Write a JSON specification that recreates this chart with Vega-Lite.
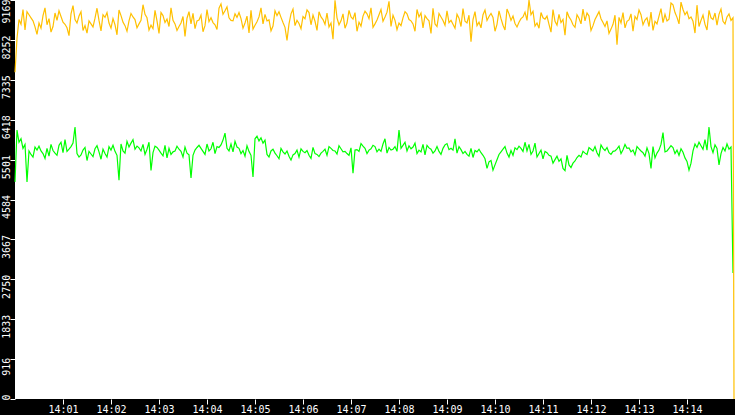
{
  "$schema": "https://vega.github.io/schema/vega-lite/v6.json",
  "width": 720,
  "height": 399,
  "autosize": "none",
  "padding": {"left": 15, "top": 0, "right": 0, "bottom": 16},
  "background": "black",
  "view": {"fill": "white", "stroke": null},
  "data": {
    "values": [
      {"t":0,"o":7510,"g":4990},{"t":2.5,"o":8290,"g":6180},
      {"t":5,"o":8720,"g":5900},{"t":7.5,"o":8610,"g":5980},{"t":10,"o":8950,"g":5760},{"t":12.5,"o":8480,"g":5850},{"t":15,"o":8900,"g":4990},
      {"t":17.5,"o":8830,"g":5700},{"t":20,"o":8760,"g":5620},{"t":22.5,"o":8690,"g":5560},{"t":25,"o":8550,"g":5790},{"t":27.5,"o":8380,"g":5720},
      {"t":30,"o":8640,"g":5810},{"t":32.5,"o":8520,"g":5700},{"t":35,"o":8810,"g":5640},{"t":37.5,"o":8990,"g":5530},{"t":40,"o":8600,"g":5760},
      {"t":42.5,"o":8740,"g":5580},{"t":45,"o":8430,"g":5850},{"t":47.5,"o":8560,"g":5710},{"t":50,"o":8870,"g":5650},{"t":52.5,"o":8700,"g":5600},
      {"t":55,"o":8920,"g":5830},{"t":57.5,"o":8790,"g":5900},{"t":60,"o":8660,"g":5660},{"t":62.5,"o":8610,"g":5960},{"t":65,"o":8530,"g":5690},
      {"t":67.5,"o":8350,"g":5740},{"t":70,"o":8850,"g":5800},{"t":72.5,"o":9040,"g":5880},{"t":75,"o":8720,"g":6250},{"t":77.5,"o":8640,"g":5640},
      {"t":80,"o":8800,"g":5560},{"t":82.5,"o":8900,"g":5610},{"t":85,"o":8470,"g":5720},{"t":87.5,"o":8580,"g":5780},{"t":90,"o":8410,"g":5480},
      {"t":92.5,"o":8690,"g":5690},{"t":95,"o":8620,"g":5630},{"t":97.5,"o":8550,"g":5570},{"t":100,"o":8750,"g":5750},{"t":102.5,"o":8980,"g":5820},
      {"t":105,"o":8700,"g":5680},{"t":107.5,"o":8460,"g":5510},{"t":110,"o":8830,"g":5740},{"t":112.5,"o":8770,"g":5640},{"t":115,"o":8880,"g":5560},
      {"t":117.5,"o":8640,"g":5800},{"t":120,"o":8520,"g":5720},{"t":122.5,"o":8740,"g":5830},{"t":125,"o":8600,"g":5690},{"t":127.5,"o":8370,"g":5600},
      {"t":130,"o":8940,"g":5030},{"t":132.5,"o":8810,"g":5860},{"t":135,"o":8660,"g":5700},{"t":137.5,"o":8580,"g":5650},{"t":140,"o":8450,"g":5920},
      {"t":142.5,"o":8690,"g":5790},{"t":145,"o":8860,"g":5880},{"t":147.5,"o":8780,"g":5960},{"t":150,"o":8720,"g":5740},{"t":152.5,"o":8530,"g":5810},
      {"t":155,"o":8620,"g":5770},{"t":157.5,"o":8700,"g":5700},{"t":160,"o":9060,"g":5850},{"t":162.5,"o":8840,"g":5620},{"t":165,"o":8760,"g":5740},
      {"t":167.5,"o":8480,"g":5900},{"t":170,"o":8590,"g":5250},{"t":172.5,"o":8510,"g":5660},{"t":175,"o":8930,"g":5810},{"t":177.5,"o":8690,"g":5780},
      {"t":180,"o":8400,"g":5720},{"t":182.5,"o":8880,"g":5650},{"t":185,"o":8810,"g":5590},{"t":187.5,"o":8650,"g":5830},{"t":190,"o":8730,"g":5540},
      {"t":192.5,"o":8560,"g":5760},{"t":195,"o":8990,"g":5620},{"t":197.5,"o":8700,"g":5680},{"t":200,"o":8620,"g":5700},{"t":202.5,"o":8470,"g":5810},
      {"t":205,"o":8560,"g":5740},{"t":207.5,"o":8640,"g":5690},{"t":210,"o":8790,"g":5560},{"t":212.5,"o":8330,"g":5790},{"t":215,"o":8750,"g":5650},
      {"t":217.5,"o":8900,"g":5610},{"t":220,"o":8620,"g":5080},{"t":222.5,"o":8860,"g":5600},{"t":225,"o":8510,"g":5720},{"t":227.5,"o":8690,"g":5780},
      {"t":230,"o":8710,"g":5830},{"t":232.5,"o":8820,"g":5760},{"t":235,"o":8440,"g":5690},{"t":237.5,"o":8580,"g":5620},{"t":240,"o":8950,"g":5860},
      {"t":242.5,"o":8670,"g":5700},{"t":245,"o":8760,"g":5750},{"t":247.5,"o":8650,"g":5900},{"t":250,"o":8600,"g":5640},{"t":252.5,"o":8490,"g":5800},
      {"t":255,"o":8980,"g":5780},{"t":257.5,"o":9080,"g":5840},{"t":260,"o":8840,"g":5950},{"t":262.5,"o":8920,"g":6110},{"t":265,"o":9010,"g":5760},
      {"t":267.5,"o":8760,"g":5700},{"t":270,"o":8700,"g":5860},{"t":272.5,"o":8690,"g":5680},{"t":275,"o":8850,"g":5920},{"t":277.5,"o":8770,"g":5790},
      {"t":280,"o":8880,"g":5760},{"t":282.5,"o":8740,"g":5640},{"t":285,"o":8520,"g":5710},{"t":287.5,"o":8640,"g":5580},{"t":290,"o":8800,"g":5820},
      {"t":292.5,"o":8410,"g":5690},{"t":295,"o":8930,"g":5600},{"t":297.5,"o":8500,"g":5100},{"t":300,"o":8590,"g":5980},{"t":302.5,"o":8670,"g":6040},
      {"t":305,"o":8780,"g":5930},{"t":307.5,"o":8990,"g":6000},{"t":310,"o":8620,"g":5880},{"t":312.5,"o":8840,"g":5950},{"t":315,"o":8690,"g":5620},
      {"t":317.5,"o":8710,"g":5560},{"t":320,"o":8460,"g":5700},{"t":322.5,"o":8570,"g":5740},{"t":325,"o":8920,"g":5650},{"t":327.5,"o":8810,"g":5590},
      {"t":330,"o":8900,"g":5520},{"t":332.5,"o":8770,"g":5760},{"t":335,"o":8650,"g":5680},{"t":337.5,"o":8540,"g":5630},{"t":340,"o":8240,"g":5700},
      {"t":342.5,"o":8620,"g":5580},{"t":345,"o":8850,"g":5490},{"t":347.5,"o":8960,"g":5610},{"t":350,"o":8580,"g":5640},{"t":352.5,"o":8700,"g":5720},
      {"t":355,"o":8630,"g":5560},{"t":357.5,"o":8510,"g":5750},{"t":360,"o":8790,"g":5690},{"t":362.5,"o":8740,"g":5660},{"t":365,"o":8940,"g":5710},
      {"t":367.5,"o":8880,"g":5600},{"t":370,"o":8600,"g":5530},{"t":372.5,"o":8820,"g":5780},{"t":375,"o":8680,"g":5640},{"t":377.5,"o":8470,"g":5620},
      {"t":380,"o":8900,"g":5570},{"t":382.5,"o":8780,"g":5650},{"t":385,"o":8720,"g":5690},{"t":387.5,"o":8610,"g":5740},{"t":390,"o":8870,"g":5600},
      {"t":392.5,"o":8550,"g":5800},{"t":395,"o":8640,"g":5760},{"t":397.5,"o":8270,"g":5710},{"t":400,"o":9160,"g":5700},{"t":402.5,"o":8760,"g":5630},
      {"t":405,"o":8600,"g":5820},{"t":407.5,"o":8690,"g":5750},{"t":410,"o":8850,"g":5680},{"t":412.5,"o":8520,"g":5690},{"t":415,"o":8640,"g":5640},
      {"t":417.5,"o":8930,"g":5600},{"t":420,"o":8780,"g":5770},{"t":422.5,"o":8730,"g":5190},{"t":425,"o":8880,"g":5720},{"t":427.5,"o":8450,"g":5730},
      {"t":430,"o":8660,"g":5690},{"t":432.5,"o":8570,"g":5870},{"t":435,"o":8800,"g":5810},{"t":437.5,"o":8910,"g":5760},{"t":440,"o":8850,"g":5640},
      {"t":442.5,"o":8740,"g":5720},{"t":445,"o":8990,"g":5750},{"t":447.5,"o":8540,"g":5830},{"t":450,"o":8620,"g":5800},{"t":452.5,"o":8710,"g":5680},
      {"t":455,"o":8830,"g":5740},{"t":457.5,"o":8950,"g":5690},{"t":460,"o":8680,"g":5860},{"t":462.5,"o":8780,"g":5980},{"t":465,"o":8890,"g":5650},
      {"t":467.5,"o":9140,"g":5780},{"t":470,"o":8560,"g":5720},{"t":472.5,"o":8820,"g":5740},{"t":475,"o":8700,"g":5800},{"t":477.5,"o":8490,"g":5690},
      {"t":480,"o":8640,"g":6180},{"t":482.5,"o":8580,"g":5760},{"t":485,"o":8760,"g":5830},{"t":487.5,"o":8900,"g":5900},{"t":490,"o":8850,"g":5700},
      {"t":492.5,"o":8720,"g":5820},{"t":495,"o":8690,"g":5750},{"t":497.5,"o":8620,"g":5790},{"t":500,"o":8450,"g":5880},{"t":502.5,"o":8950,"g":5640},
      {"t":505,"o":8780,"g":5720},{"t":507.5,"o":8870,"g":5680},{"t":510,"o":8530,"g":5850},{"t":512.5,"o":8810,"g":5610},{"t":515,"o":8740,"g":5830},
      {"t":517.5,"o":8690,"g":5770},{"t":520,"o":8400,"g":5740},{"t":522.5,"o":8980,"g":5650},{"t":525,"o":8620,"g":5700},{"t":527.5,"o":8560,"g":5800},
      {"t":530,"o":8860,"g":5690},{"t":532.5,"o":8780,"g":5620},{"t":535,"o":8700,"g":5760},{"t":537.5,"o":8590,"g":5840},{"t":540,"o":8920,"g":5870},
      {"t":542.5,"o":8650,"g":5730},{"t":545,"o":8700,"g":5760},{"t":547.5,"o":8610,"g":5720},{"t":550,"o":8520,"g":5980},{"t":552.5,"o":8840,"g":5650},
      {"t":555,"o":8750,"g":5800},{"t":557.5,"o":8560,"g":5730},{"t":560,"o":8970,"g":5640},{"t":562.5,"o":8680,"g":5690},{"t":565,"o":8640,"g":5620},
      {"t":567.5,"o":8820,"g":5580},{"t":570,"o":8210,"g":5760},{"t":572.5,"o":8720,"g":5550},{"t":575,"o":8900,"g":5710},{"t":577.5,"o":8580,"g":5680},
      {"t":580,"o":8660,"g":5740},{"t":582.5,"o":8530,"g":5660},{"t":585,"o":8830,"g":5600},{"t":587.5,"o":8940,"g":5520},{"t":590,"o":8700,"g":5300},
      {"t":592.5,"o":8790,"g":5450},{"t":595,"o":8860,"g":5480},{"t":597.5,"o":8770,"g":5260},{"t":600,"o":8450,"g":5380},{"t":602.5,"o":8610,"g":5500},
      {"t":605,"o":8920,"g":5620},{"t":607.5,"o":8740,"g":5680},{"t":610,"o":8590,"g":5740},{"t":612.5,"o":8480,"g":5800},{"t":615,"o":8960,"g":5650},
      {"t":617.5,"o":8850,"g":5560},{"t":620,"o":8700,"g":5710},{"t":622.5,"o":8800,"g":5600},{"t":625,"o":8630,"g":5770},{"t":627.5,"o":8550,"g":5730},
      {"t":630,"o":8660,"g":5810},{"t":632.5,"o":8740,"g":5760},{"t":635,"o":8780,"g":5690},{"t":637.5,"o":8890,"g":5900},{"t":640,"o":8700,"g":5700},
      {"t":642.5,"o":9169,"g":5850},{"t":645,"o":8830,"g":5620},{"t":647.5,"o":8910,"g":5700},{"t":650,"o":8570,"g":5880},{"t":652.5,"o":8640,"g":5560},
      {"t":655,"o":8520,"g":5640},{"t":657.5,"o":8880,"g":5720},{"t":660,"o":8760,"g":5520},{"t":662.5,"o":8730,"g":5690},{"t":665,"o":8800,"g":5660},
      {"t":667.5,"o":8610,"g":5600},{"t":670,"o":8430,"g":5580},{"t":672.5,"o":8950,"g":5420},{"t":675,"o":8680,"g":5500},{"t":677.5,"o":8590,"g":5580},
      {"t":680,"o":8840,"g":5460},{"t":682.5,"o":8650,"g":5520},{"t":685,"o":8720,"g":5300},{"t":687.5,"o":8360,"g":5250},{"t":690,"o":8900,"g":5600},
      {"t":692.5,"o":8780,"g":5380},{"t":695,"o":8710,"g":5320},{"t":697.5,"o":8600,"g":5420},{"t":700,"o":8540,"g":5470},{"t":702.5,"o":8830,"g":5550},
      {"t":705,"o":8750,"g":5600},{"t":707.5,"o":8620,"g":5560},{"t":710,"o":8960,"g":5690},{"t":712.5,"o":8690,"g":5650},{"t":715,"o":8870,"g":5620},
      {"t":717.5,"o":8800,"g":5780},{"t":720,"o":8470,"g":5740},{"t":722.5,"o":8580,"g":5700},{"t":725,"o":8720,"g":5800},{"t":727.5,"o":8810,"g":5660},
      {"t":730,"o":8900,"g":5580},{"t":732.5,"o":8740,"g":5840},{"t":735,"o":8650,"g":5760},{"t":737.5,"o":8560,"g":5710},{"t":740,"o":8690,"g":5780},
      {"t":742.5,"o":8400,"g":5660},{"t":745,"o":8500,"g":5620},{"t":747.5,"o":8610,"g":5690},{"t":750,"o":8820,"g":5700},{"t":752.5,"o":8140,"g":5750},
      {"t":755,"o":8770,"g":5810},{"t":757.5,"o":8640,"g":5640},{"t":760,"o":8880,"g":5730},{"t":762.5,"o":8530,"g":5850},{"t":765,"o":8680,"g":5760},
      {"t":767.5,"o":8710,"g":5770},{"t":770,"o":8850,"g":5680},{"t":772.5,"o":8450,"g":5720},{"t":775,"o":8790,"g":5610},{"t":777.5,"o":8720,"g":5800},
      {"t":780,"o":8940,"g":5750},{"t":782.5,"o":8830,"g":5700},{"t":785,"o":8600,"g":5660},{"t":787.5,"o":8710,"g":5580},{"t":790,"o":8760,"g":5770},
      {"t":792.5,"o":8560,"g":5640},{"t":795,"o":8890,"g":5300},{"t":797.5,"o":8470,"g":5800},{"t":800,"o":8680,"g":5540},{"t":802.5,"o":8620,"g":5650},
      {"t":805,"o":8800,"g":5720},{"t":807.5,"o":8970,"g":5850},{"t":810,"o":8650,"g":6120},{"t":812.5,"o":8840,"g":5680},{"t":815,"o":8690,"g":5700},
      {"t":817.5,"o":8730,"g":5760},{"t":820,"o":9100,"g":5820},{"t":822.5,"o":9060,"g":5780},{"t":825,"o":8880,"g":5640},{"t":827.5,"o":8770,"g":5720},
      {"t":830,"o":8620,"g":5600},{"t":832.5,"o":9120,"g":5750},{"t":835,"o":8950,"g":5670},{"t":837.5,"o":8830,"g":5540},{"t":840,"o":8900,"g":5460},
      {"t":842.5,"o":8740,"g":5260},{"t":845,"o":8780,"g":5420},{"t":847.5,"o":8680,"g":5700},{"t":850,"o":8410,"g":5860},{"t":852.5,"o":9050,"g":5780},
      {"t":855,"o":8560,"g":5900},{"t":857.5,"o":8700,"g":5820},{"t":860,"o":8820,"g":5740},{"t":862.5,"o":8610,"g":5960},{"t":865,"o":8480,"g":5720},
      {"t":867.5,"o":8930,"g":6250},{"t":870,"o":8760,"g":5800},{"t":872.5,"o":8720,"g":5660},{"t":875,"o":8870,"g":5840},{"t":877.5,"o":8590,"g":5760},
      {"t":880,"o":8840,"g":5380},{"t":882.5,"o":8960,"g":5640},{"t":885,"o":8680,"g":5780},{"t":887.5,"o":8620,"g":5700},{"t":890,"o":8780,"g":5860},
      {"t":892.5,"o":8850,"g":5740},{"t":895,"o":8700,"g":5790},{"t":897.5,"o":8760,"g":2895},
      {"t":898.75,"o":0}
    ]
  },
  "transform": [{"fold": ["g", "o"], "as": ["series", "value"]}],
  "mark": {"type": "line", "strokeWidth": 1.2, "interpolate": "linear"},
  "encoding": {
    "x": {
      "field": "t",
      "type": "quantitative",
      "scale": {"domain": [0, 900]},
      "axis": {
        "title": null,
        "grid": false,
        "domain": false,
        "values": [60, 120, 180, 240, 300, 360, 420, 480, 540, 600, 660, 720, 780, 840],
        "labelExpr": "'14:' + (datum.value / 60 < 10 ? '0' : '') + (datum.value / 60)",
        "tickColor": "white",
        "tickSize": 5,
        "labelColor": "white",
        "labelFont": "DejaVu Sans Mono",
        "labelFontSize": 10,
        "labelPadding": 0,
        "labelBaseline": "top"
      }
    },
    "y": {
      "field": "value",
      "type": "quantitative",
      "scale": {"domain": [0, 9169], "nice": false},
      "axis": {
        "title": null,
        "grid": false,
        "domain": false,
        "format": "d",
        "values": [0, 916, 1833, 2750, 3667, 4584, 5501, 6418, 7335, 8252, 9169],
        "tickColor": "white",
        "tickSize": 5,
        "labelColor": "white",
        "labelFont": "DejaVu Sans Mono",
        "labelFontSize": 10,
        "labelAngle": 270,
        "labelAlign": "center",
        "labelBaseline": "alphabetic",
        "labelPadding": 1,
        "labelOffset": {"condition": [{"test": "datum.value === 0", "value": -2}, {"test": "datum.value === 9169", "value": 11}], "value": 7}
      }
    },
    "color": {
      "field": "series",
      "type": "nominal",
      "scale": {"domain": ["g", "o"], "range": ["#00ff00", "#ffc000"]},
      "legend": null
    }
  }
}
